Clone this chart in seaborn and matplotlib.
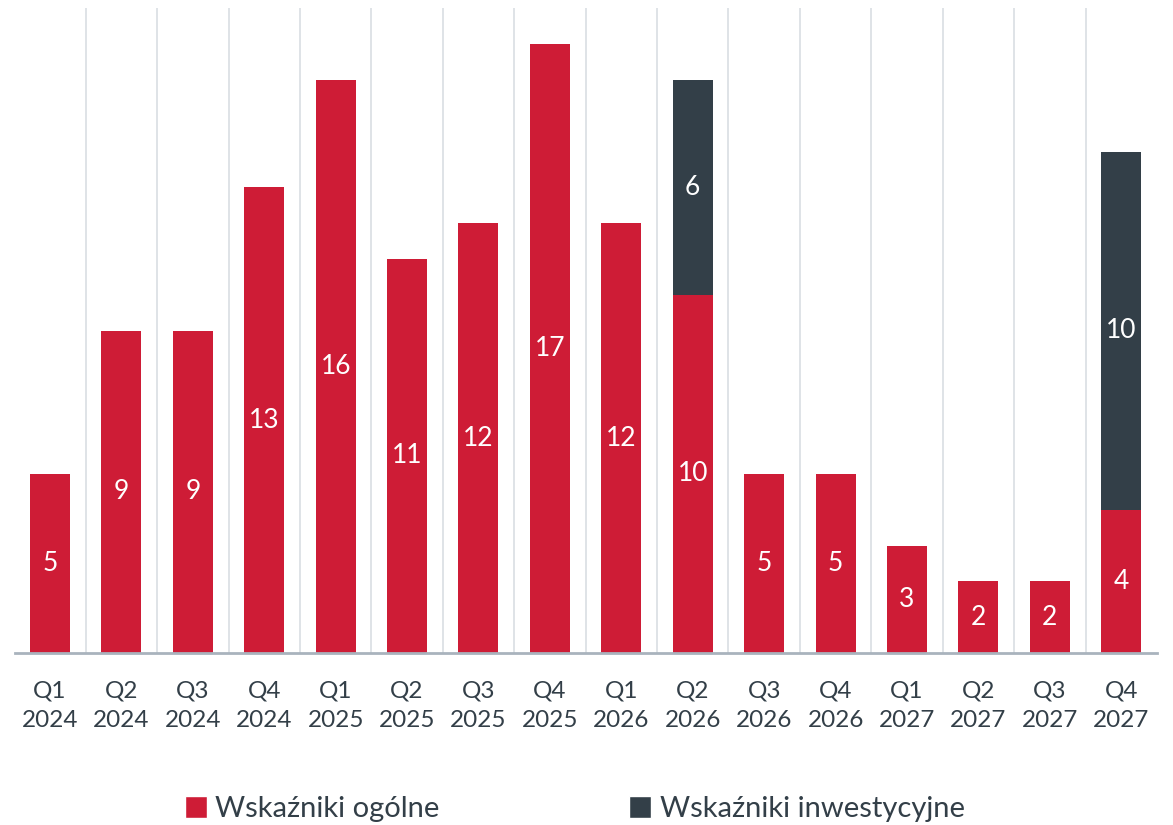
import pandas as pd
import matplotlib
matplotlib.use("Agg")
import matplotlib.pyplot as plt
import matplotlib as mpl
from matplotlib.patches import Patch
import seaborn as sns

# Data
quarters = ["Q1\n2024", "Q2\n2024", "Q3\n2024", "Q4\n2024",
            "Q1\n2025", "Q2\n2025", "Q3\n2025", "Q4\n2025",
            "Q1\n2026", "Q2\n2026", "Q3\n2026", "Q4\n2026",
            "Q1\n2027", "Q2\n2027", "Q3\n2027", "Q4\n2027"]
ogolne = [5, 9, 9, 13, 16, 11, 12, 17, 12, 10, 5, 5, 3, 2, 2, 4]
inwestycyjne = [0, 0, 0, 0, 0, 0, 0, 0, 0, 6, 0, 0, 0, 0, 0, 10]
series_names = ["Wskaźniki ogólne", "Wskaźniki inwestycyjne"]

RED = "#CE1C36"
DARK = "#333F48"
TEXT = "#333F48"

sns.set_style("white")
mpl.rcParams["font.family"] = ["Lato", "DejaVu Sans"]

df = pd.DataFrame({"quarter": quarters, "ogolne": ogolne, "inwestycyjne": inwestycyjne})
df["total"] = df["ogolne"] + df["inwestycyjne"]

fig = plt.figure(figsize=(11.73, 8.25), dpi=100)
ax = fig.add_axes([0.0128, 0.2085, 0.9735, 0.7815])

# total bars in dark, red part drawn over them -> stacked look
sns.barplot(data=df, x="quarter", y="total", color=DARK, saturation=1, width=0.56,
            linewidth=0, ax=ax, zorder=3)
sns.barplot(data=df, x="quarter", y="ogolne", color=RED, saturation=1, width=0.56,
            linewidth=0, ax=ax, zorder=4)

# value labels
for i, row in df.iterrows():
    ax.text(i, row["ogolne"] / 2, str(row["ogolne"]), ha="center", va="center",
            color="white", fontsize=19, zorder=5)
    if row["inwestycyjne"] > 0:
        ax.text(i, row["ogolne"] + row["inwestycyjne"] / 2, str(row["inwestycyjne"]),
                ha="center", va="center", color="white", fontsize=19, zorder=5)

# separators between categories
for b in range(len(quarters) - 1):
    ax.axvline(b + 0.5, color="#D9DEE3", linewidth=1.2, zorder=1)

ax.set_xlim(-0.49, 15.5)
ax.set_ylim(0, 18)
ax.set_xlabel("")
ax.set_ylabel("")
ax.set_yticks([])
for s in ["top", "right", "left"]:
    ax.spines[s].set_visible(False)
ax.spines["bottom"].set_color("#A9B3BD")
ax.spines["bottom"].set_linewidth(2)
ax.spines["bottom"].set_zorder(6)
ax.tick_params(axis="x", length=0, pad=20, labelsize=17.5, labelcolor=TEXT)
for lbl in ax.get_xticklabels():
    lbl.set_linespacing(1.5)

handles = [Patch(facecolor=RED), Patch(facecolor=DARK)]
fig.legend(handles, series_names, loc="center", bbox_to_anchor=(0.49, 0.019),
           ncol=2, frameon=False, fontsize=21, labelcolor=TEXT,
           handlelength=0.75, handleheight=0.75, handletextpad=0.3, columnspacing=6.5)

fig.savefig("out.png", dpi=100)
